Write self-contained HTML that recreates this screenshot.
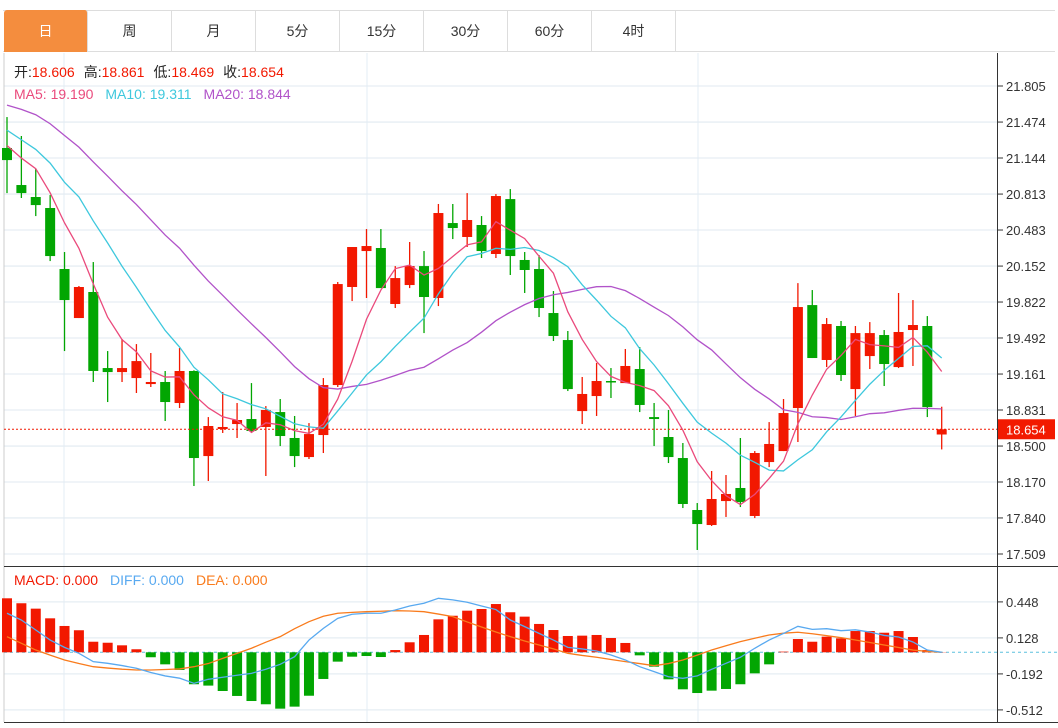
<!DOCTYPE html>
<html><head><meta charset="utf-8">
<style>
body{margin:0;background:#fff;font-family:"Liberation Sans","Noto Sans CJK SC",sans-serif;}
#wrap{position:relative;width:1058px;height:728px;overflow:hidden;background:#fff;}
.tab{position:absolute;top:10px;height:42px;line-height:42px;text-align:center;font-size:14px;color:#333;border-right:1px solid #ddd;box-sizing:border-box;}
.tab.on{background:#f48d3e;color:#fff;border-radius:3px 3px 0 0;}
svg text{font-family:"Liberation Sans","Noto Sans CJK SC",sans-serif;}
</style></head><body>
<div id="wrap">
<div style="position:absolute;left:3px;top:10px;width:1052px;height:42px;border-top:1px solid #ddd;border-bottom:1px solid #ddd;box-sizing:border-box;"></div>
<div class="tab on" style="left:4px;width:84px;">日</div>
<div class="tab" style="left:88px;width:84px;">周</div>
<div class="tab" style="left:172px;width:84px;">月</div>
<div class="tab" style="left:256px;width:84px;">5分</div>
<div class="tab" style="left:340px;width:84px;">15分</div>
<div class="tab" style="left:424px;width:84px;">30分</div>
<div class="tab" style="left:508px;width:84px;">60分</div>
<div class="tab" style="left:592px;width:84px;">4时</div>
<svg id="svg" width="1058" height="728" style="position:absolute;left:0;top:0"></svg>
</div>
<script>
const opens=[21.236,20.896,20.786,20.685,20.125,19.675,19.914,19.216,19.179,19.124,19.069,19.088,18.895,19.189,18.408,18.656,18.702,18.748,18.675,18.812,18.574,18.399,18.601,19.060,19.960,20.290,20.318,19.804,19.978,20.152,19.859,20.547,20.419,20.529,20.263,20.767,20.208,20.125,19.721,19.473,18.821,18.959,19.097,19.078,19.207,18.766,18.583,18.390,17.913,17.775,17.995,18.115,17.858,18.353,18.454,18.849,19.794,19.290,19.602,19.023,19.326,19.519,19.225,19.565,19.602,18.606];
const closes=[21.125,20.822,20.712,20.244,19.840,19.960,19.189,19.179,19.216,19.280,19.088,18.904,19.189,18.390,18.684,18.675,18.739,18.638,18.831,18.592,18.408,18.610,19.060,19.987,20.327,20.336,19.950,20.042,20.152,19.868,20.639,20.501,20.575,20.290,20.795,20.244,20.116,19.767,19.510,19.023,18.978,19.097,19.088,19.235,18.877,18.748,18.399,17.968,17.784,18.014,18.060,17.986,18.436,18.519,18.803,19.776,19.308,19.620,19.152,19.537,19.537,19.253,19.547,19.611,18.858,18.654];
const highs=[21.520,21.346,21.043,20.804,20.281,19.969,20.189,19.372,19.482,19.436,19.354,19.189,19.400,19.195,18.766,18.996,18.895,19.078,18.867,18.932,18.776,18.711,19.124,20.006,20.327,20.492,20.492,20.152,20.373,20.290,20.722,20.722,20.822,20.611,20.813,20.859,20.281,20.253,19.923,19.556,19.134,19.262,19.216,19.391,19.409,18.895,18.831,18.528,17.977,18.271,18.234,18.574,18.454,18.720,18.932,19.996,19.932,19.675,19.648,19.602,19.638,19.565,19.905,19.840,19.693,18.861];
const lows=[20.822,20.777,20.611,20.198,19.372,19.675,19.088,18.904,19.088,18.987,19.042,18.730,18.849,18.133,18.179,18.620,18.574,18.630,18.225,18.500,18.307,18.381,18.436,19.042,19.831,19.859,19.950,19.767,19.950,19.537,19.785,20.400,20.327,20.226,20.226,20.070,19.905,19.684,19.464,19.005,18.702,18.776,18.941,19.078,18.812,18.500,18.344,17.931,17.546,17.766,17.849,17.940,17.839,18.307,18.454,18.537,19.308,19.225,19.097,18.776,19.207,19.051,19.216,19.235,18.766,18.469];
const priorCloses=[21.6,21.7,21.9,22.0,22.1,21.9,21.8,21.9,21.8,21.9,21.7,21.6,21.5,21.6,21.3,21.4,21.2,21.35,21.22];
const macdBars=[0.48,0.436,0.388,0.302,0.234,0.196,0.094,0.085,0.062,0.027,-0.044,-0.107,-0.157,-0.284,-0.296,-0.344,-0.388,-0.433,-0.462,-0.501,-0.483,-0.386,-0.237,-0.083,-0.039,-0.033,-0.042,0.02,0.089,0.154,0.293,0.325,0.37,0.385,0.429,0.356,0.317,0.252,0.198,0.145,0.148,0.154,0.127,0.083,-0.027,-0.128,-0.24,-0.329,-0.362,-0.341,-0.326,-0.284,-0.187,-0.107,0.006,0.118,0.094,0.139,0.124,0.189,0.189,0.174,0.189,0.136,0.02,0.002];
const diffLine=[0.347,0.287,0.198,0.109,0.044,-0.009,-0.083,-0.098,-0.118,-0.142,-0.18,-0.21,-0.23,-0.276,-0.24,-0.222,-0.204,-0.187,-0.151,-0.107,-0.039,0.109,0.213,0.302,0.338,0.347,0.347,0.376,0.412,0.436,0.48,0.466,0.445,0.412,0.38,0.287,0.228,0.168,0.109,0.044,0.03,0.012,-0.024,-0.068,-0.128,-0.172,-0.217,-0.231,-0.21,-0.151,-0.098,-0.044,0.036,0.109,0.168,0.231,0.204,0.21,0.192,0.2,0.18,0.15,0.136,0.092,0.02,0];
const deaLine=[0.139,0.08,0.02,-0.025,-0.068,-0.1,-0.128,-0.14,-0.15,-0.157,-0.157,-0.153,-0.148,-0.128,-0.1,-0.054,-0.01,0.036,0.09,0.139,0.21,0.272,0.32,0.347,0.355,0.361,0.365,0.37,0.367,0.361,0.34,0.317,0.27,0.225,0.18,0.139,0.1,0.065,0.03,-0.009,-0.028,-0.044,-0.064,-0.083,-0.1,-0.119,-0.1,-0.068,-0.025,0.02,0.058,0.095,0.125,0.154,0.17,0.178,0.165,0.148,0.13,0.109,0.087,0.065,0.043,0.02,0.008,0];
const priceTicks=["21.805","21.474","21.144","20.813","20.483","20.152","19.822","19.492","19.161","18.831","18.500","18.170","17.840","17.509"];
const macdTicks=["0.448","0.128","-0.192","-0.512"];

const NS="http://www.w3.org/2000/svg";
const svg=document.getElementById('svg');
function mk(tag,attrs,parent){const e=document.createElementNS(NS,tag);for(const k in attrs)e.setAttribute(k,attrs[k]);(parent||svg).appendChild(e);return e;}
const xOf=i=>7+i*14.38;
const yP=p=>86+(21.805-p)*108.94;
const yM=v=>652.3-v*112.5;
const RED="#f21800",GRN="#02a602";

// frame
let g=mk('g',{});
priceTicks.forEach(t=>{mk('line',{x1:4,x2:997,y1:yP(+t),y2:yP(+t),stroke:'#e6edf3','stroke-width':1.3},g);});
macdTicks.forEach(t=>{mk('line',{x1:4,x2:997,y1:yM(+t),y2:yM(+t),stroke:'#e6edf3','stroke-width':1.3},g);});
[64,367,698].forEach(x=>{mk('line',{x1:x,x2:x,y1:53,y2:722,stroke:'#e3ecf4','stroke-width':1},g);});
mk('line',{x1:4,x2:4,y1:53,y2:722,stroke:'#ccc'},g);
mk('line',{x1:4,x2:1058,y1:566.5,y2:566.5,stroke:'#333'},g);
mk('line',{x1:4,x2:1058,y1:722.5,y2:722.5,stroke:'#333'},g);
mk('line',{x1:997.5,x2:997.5,y1:53,y2:722,stroke:'#333'},g);

// axis
let ax=mk('g',{});
priceTicks.forEach(t=>{const y=yP(+t);mk('line',{x1:997,x2:1003,y1:y,y2:y,stroke:'#333'},ax);const tx=mk('text',{x:1006,y:y+5,'font-size':13,fill:'#333'},ax);tx.textContent=t;});
let ax2=mk('g',{});
macdTicks.forEach(t=>{const y=yM(+t);mk('line',{x1:997,x2:1003,y1:y,y2:y,stroke:'#333'},ax2);const tx=mk('text',{x:1006,y:y+5,'font-size':13,fill:'#333'},ax2);tx.textContent=t;});

// candles
let cg=mk('g',{});
opens.forEach((o,i)=>{const c=closes[i],col=c>=o?RED:GRN,x=xOf(i);
 const k=mk('g',{},cg);
 
 
 mk('line',{x1:x,x2:x,y1:yP(highs[i]),y2:yP(lows[i]),stroke:col,'stroke-width':1.3},k);
 const t=yP(Math.max(o,c)),b=yP(Math.min(o,c));
 mk('rect',{x:x-5,y:t,width:10,height:Math.max(b-t,1.5),fill:col},k);
});

// MA lines
const all=priorCloses.concat(closes);
function ma(n){return closes.map((_,i)=>{const j=i+priorCloses.length;let s=0;for(let k=j-n+1;k<=j;k++)s+=all[k];return s/n;});}
function poly(vals,yf,col,name){const p=mk('polyline',{points:vals.map((v,i)=>xOf(i)+','+yf(v)).join(' '),fill:'none',stroke:col,'stroke-width':1.3});return p;}
poly(ma(20),yP,'#b153c9','ma20-line');
poly(ma(10),yP,'#3ec8dd','ma10-line');
poly(ma(5),yP,'#ea4a7c','ma5-line');

// last price
const last=closes[closes.length-1];
const ly=yP(last);
let lp=mk('line',{x1:4,x2:997,y1:ly,y2:ly,stroke:RED,'stroke-dasharray':'2,2'});
let lb=mk('rect',{x:998,y:ly-10,width:57,height:20,fill:'#f21a00'});
let lt=mk('text',{x:1006,y:ly+5,'font-size':13,fill:'#fff'});lt.textContent=last.toFixed(3);

// MACD
let zl=mk('line',{x1:4,x2:1058,y1:yM(0),y2:yM(0),stroke:'#5bc0de','stroke-dasharray':'3,3'});
let mg=mk('g',{});
macdBars.forEach((v,i)=>{const y0=yM(0),y1=yM(v);const r=mk('rect',{x:xOf(i)-5,y:Math.min(y0,y1),width:10,height:Math.abs(y1-y0),fill:v>=0?RED:GRN},mg);
 
 });
poly(deaLine,yM,'#f97b1c','dea-line');
poly(diffLine,yM,'#58a9f0','diff-line');

// legends
function legend(y,items,name){const t=mk('text',{x:14,y:y,'font-size':14});
 items.forEach(([s,c,gap])=>{const sp=mk('tspan',{fill:c},t);if(gap)sp.setAttribute('dx',gap);sp.textContent=s;});}
legend(77,[["开:","#222"],["18.606",RED],["高:","#222",9],["18.861",RED],["低:","#222",9],["18.469",RED],["收:","#222",9],["18.654",RED]],'ohlc-legend');
legend(99,[["MA5: 19.190","#ea4a7c"],["MA10: 19.311","#3ec8dd",12],["MA20: 18.844","#b153c9",12]],'ma-legend');
legend(585,[["MACD: 0.000","#f21800"],["DIFF: 0.000","#58a9f0",12],["DEA: 0.000","#f97b1c",12]],'macd-legend');
</script>
</body></html>
